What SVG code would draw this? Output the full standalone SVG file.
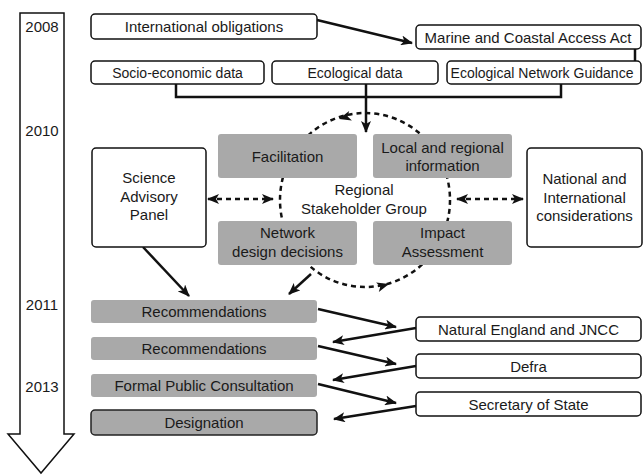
<svg xmlns="http://www.w3.org/2000/svg" width="643" height="475" viewBox="0 0 643 475">
<style>
text{font-family:"Liberation Sans",Arial,sans-serif;font-size:15px;fill:#1a1a1a;text-anchor:middle}
.s{font-size:14px}
.box{fill:#fff;stroke:#111;stroke-width:1.5}
.g{fill:#a9a9a9}
.gd{fill:#a9a9a9;stroke:#222;stroke-width:1.5}
.ln{fill:none;stroke:#111;stroke-width:2.5}
.dash{fill:none;stroke:#111;stroke-width:2.5;stroke-dasharray:5 4}
</style>
<defs>
<marker id="ah" viewBox="0 0 12 10" refX="11" refY="5" markerWidth="12" markerHeight="10" orient="auto-start-reverse" markerUnits="userSpaceOnUse">
<path d="M0,0 L12,5 L0,10 L3,5 z" fill="#111"/>
</marker>
</defs>
<g id="timeline">
<polygon points="20,13 64,13 64,434 74,434 41,473 8,434 20,434" fill="#fff" stroke="#111" stroke-width="1.5" stroke-linejoin="miter"/>
<text x="42" y="32">2008</text>
<text x="42" y="136">2010</text>
<text x="42" y="310">2011</text>
<text x="42" y="392">2013</text>
</g>
<g id="cycle">
<ellipse cx="365" cy="200" rx="85" ry="87" class="dash"/>
<path d="M0,0 L-12,-5 L-9,0 L-12,5 z" fill="#111" transform="translate(339,119) rotate(164)"/>
<path d="M0,0 L-12,-5 L-9,0 L-12,5 z" fill="#111" transform="translate(389,284) rotate(-16)"/>
</g>
<g id="connectors">
<line x1="317" y1="20" x2="412" y2="43" class="ln" marker-end="url(#ah)"/>
<line x1="635" y1="49" x2="635" y2="76" class="ln" marker-end="url(#ah)"/>
<polyline points="176,84 176,97 561,97 561,84" class="ln"/>
<line x1="366" y1="84" x2="366" y2="132" class="ln" marker-end="url(#ah)"/>
<line x1="143" y1="247" x2="189" y2="296" class="ln" marker-end="url(#ah)"/>
<line x1="311" y1="274" x2="289" y2="294" class="ln" marker-end="url(#ah)"/>
<line x1="208" y1="199" x2="273" y2="199" class="dash" marker-start="url(#ah)" marker-end="url(#ah)"/>
<line x1="457" y1="199" x2="523" y2="199" class="dash" marker-start="url(#ah)" marker-end="url(#ah)"/>
<line x1="318" y1="309" x2="396" y2="327" class="ln" marker-end="url(#ah)"/>
<line x1="416" y1="328" x2="333" y2="342" class="ln" marker-end="url(#ah)"/>
<line x1="318" y1="346" x2="396" y2="364" class="ln" marker-end="url(#ah)"/>
<line x1="416" y1="366" x2="333" y2="380" class="ln" marker-end="url(#ah)"/>
<line x1="318" y1="384" x2="396" y2="403" class="ln" marker-end="url(#ah)"/>
<line x1="416" y1="406" x2="334" y2="419" class="ln" marker-end="url(#ah)"/>
</g>
<g id="intl-obligations"><rect x="91" y="14" width="226" height="25" rx="4" class="box"/><text x="204" y="32">International obligations</text></g>
<g id="marine-act"><rect x="416" y="25" width="225" height="24" rx="4" class="box"/><text x="528" y="42.5">Marine and Coastal Access Act</text></g>
<g id="socio-data"><rect x="91" y="61" width="173" height="23" rx="4" class="box"/><text class="s" x="177.5" y="77.5">Socio-economic data</text></g>
<g id="eco-data"><rect x="272" y="61" width="166" height="23" rx="4" class="box"/><text class="s" x="355" y="77.5">Ecological data</text></g>
<g id="eco-guidance"><rect x="447" y="61" width="194" height="23" rx="4" class="box"/><text class="s" x="542" y="77.5">Ecological Network Guidance</text></g>
<g id="facilitation"><rect x="218" y="134" width="139" height="44" rx="3" class="g"/><text x="287.5" y="162">Facilitation</text></g>
<g id="local-info"><rect x="373" y="134" width="139" height="44" rx="3" class="g"/><text x="442.5" y="153">Local and regional</text><text x="442.5" y="171">information</text></g>
<g id="network-design"><rect x="218" y="221" width="139" height="44" rx="3" class="g"/><text x="287.5" y="238">Network</text><text x="287.5" y="257">design decisions</text></g>
<g id="impact"><rect x="373" y="221" width="139" height="44" rx="3" class="g"/><text x="442.5" y="238">Impact</text><text x="442.5" y="257">Assessment</text></g>
<g id="rsg"><text x="364" y="195">Regional</text><text x="364" y="214">Stakeholder Group</text></g>
<g id="science-panel"><rect x="92" y="148" width="114" height="99" rx="4" class="box"/><text x="149" y="183">Science</text><text x="149" y="202">Advisory</text><text x="149" y="220">Panel</text></g>
<g id="national"><rect x="527" y="148" width="115" height="99" rx="4" class="box"/><text x="584.5" y="184">National and</text><text x="584.5" y="203">International</text><text x="584.5" y="221">considerations</text></g>
<g id="rec1"><rect x="91" y="300" width="226" height="23" rx="3" class="g"/><text x="204" y="317">Recommendations</text></g>
<g id="rec2"><rect x="91" y="337" width="226" height="23" rx="3" class="g"/><text x="204" y="354">Recommendations</text></g>
<g id="consultation"><rect x="91" y="374" width="226" height="23" rx="3" class="g"/><text x="204" y="391">Formal Public Consultation</text></g>
<g id="designation"><rect x="91" y="410" width="226" height="25" rx="4" class="gd"/><text x="204" y="428">Designation</text></g>
<g id="ne-jncc"><rect x="416" y="317" width="225" height="24" rx="4" class="box"/><text x="528.5" y="334.5">Natural England and JNCC</text></g>
<g id="defra"><rect x="416" y="354" width="225" height="24" rx="4" class="box"/><text x="528.5" y="371.5">Defra</text></g>
<g id="sos"><rect x="416" y="392" width="225" height="24" rx="4" class="box"/><text x="528.5" y="409.5">Secretary of State</text></g>
</svg>
